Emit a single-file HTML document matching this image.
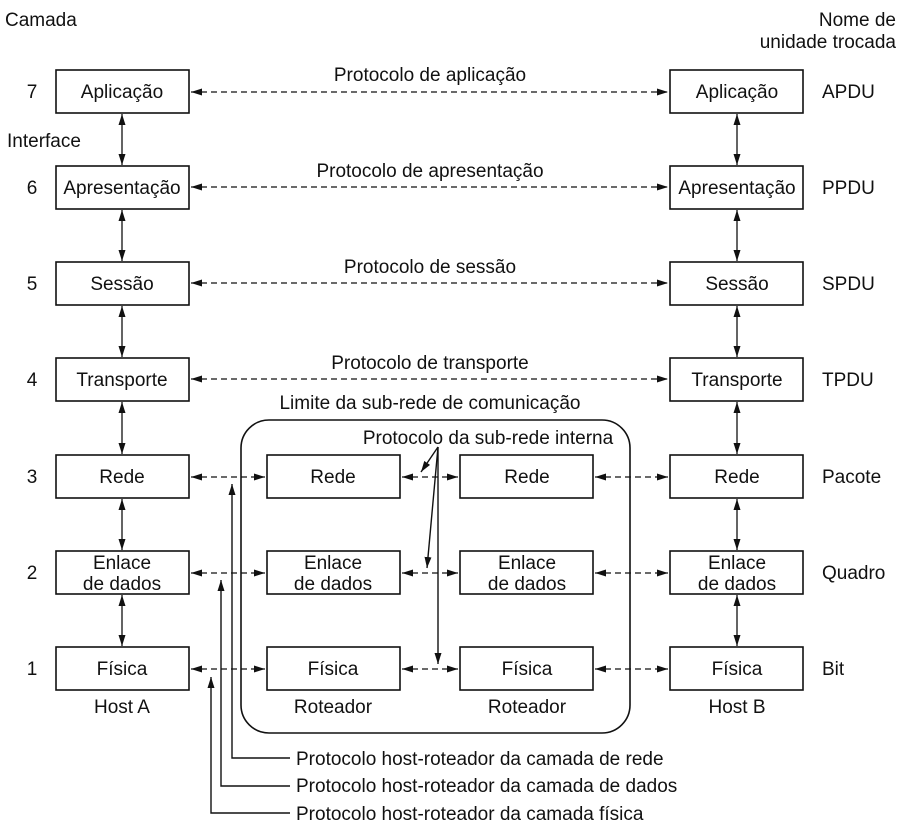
<!DOCTYPE html>
<html><head><meta charset="utf-8"><style>body{margin:0;background:#fff}svg{display:block}text{font-family:"Liberation Sans",sans-serif;font-size:19px;fill:#111}</style></head><body>
<svg width="900" height="828" viewBox="0 0 900 828" xmlns="http://www.w3.org/2000/svg">
<defs>
<marker id="a" markerWidth="11" markerHeight="8" refX="11" refY="4" orient="auto-start-reverse" markerUnits="userSpaceOnUse"><path d="M0,0.5 L11,4 L0,7.5 z" fill="#111"/></marker>
</defs>
<g stroke="#111" stroke-width="1.6" fill="none">
<rect x="56" y="70" width="133" height="43"/><rect x="670" y="70" width="133" height="43"/>
<rect x="56" y="166" width="133" height="43"/><rect x="670" y="166" width="133" height="43"/>
<rect x="56" y="262" width="133" height="43"/><rect x="670" y="262" width="133" height="43"/>
<rect x="56" y="358" width="133" height="43"/><rect x="670" y="358" width="133" height="43"/>
<rect x="56" y="455" width="133" height="43"/><rect x="670" y="455" width="133" height="43"/>
<rect x="56" y="551" width="133" height="43"/><rect x="670" y="551" width="133" height="43"/>
<rect x="56" y="647" width="133" height="43"/><rect x="670" y="647" width="133" height="43"/>
<rect x="267" y="455" width="133" height="43"/><rect x="460" y="455" width="133" height="43"/>
<rect x="267" y="551" width="133" height="43"/><rect x="460" y="551" width="133" height="43"/>
<rect x="267" y="647" width="133" height="43"/><rect x="460" y="647" width="133" height="43"/>
<rect x="241" y="420" width="389" height="313" rx="28"/>
</g>
<g stroke="#111" stroke-width="1.3" fill="none" marker-start="url(#a)" marker-end="url(#a)">
<line x1="122" y1="114" x2="122" y2="165"/><line x1="122" y1="210" x2="122" y2="261"/><line x1="122" y1="306" x2="122" y2="357"/><line x1="122" y1="402" x2="122" y2="454"/><line x1="122" y1="499" x2="122" y2="550"/><line x1="122" y1="595" x2="122" y2="646"/>
<line x1="737" y1="114" x2="737" y2="165"/><line x1="737" y1="210" x2="737" y2="261"/><line x1="737" y1="306" x2="737" y2="357"/><line x1="737" y1="402" x2="737" y2="454"/><line x1="737" y1="499" x2="737" y2="550"/><line x1="737" y1="595" x2="737" y2="646"/>
</g>
<g stroke="#111" stroke-width="1.3" fill="none" stroke-dasharray="6,4" marker-start="url(#a)" marker-end="url(#a)">
<line x1="191" y1="92" x2="668" y2="92"/><line x1="191" y1="187" x2="668" y2="187"/><line x1="191" y1="283" x2="668" y2="283"/><line x1="191" y1="379" x2="668" y2="379"/>
<line x1="191" y1="477" x2="265" y2="477"/><line x1="402" y1="477" x2="458" y2="477"/><line x1="595" y1="477" x2="668" y2="477"/>
<line x1="191" y1="573" x2="265" y2="573"/><line x1="402" y1="573" x2="458" y2="573"/><line x1="595" y1="573" x2="668" y2="573"/>
<line x1="191" y1="669" x2="265" y2="669"/><line x1="402" y1="669" x2="458" y2="669"/><line x1="595" y1="669" x2="668" y2="669"/>
</g>
<g stroke="#111" stroke-width="1.4" fill="none" marker-end="url(#a)">
<polyline points="290,758 232,758 232,484"/>
<polyline points="290,786 221,786 221,580"/>
<polyline points="290,813 211,813 211,677"/>
<line x1="438" y1="447" x2="421" y2="472"/>
<line x1="438" y1="447" x2="427" y2="568"/>
<line x1="438" y1="447" x2="438" y2="664"/>
</g>
<text x="5" y="26">Camada</text>
<text x="896" y="26" text-anchor="end">Nome de</text>
<text x="896" y="48" text-anchor="end">unidade trocada</text>
<text x="7" y="147">Interface</text>
<g text-anchor="middle">
<text x="122" y="98">Aplicação</text><text x="737" y="98">Aplicação</text>
<text x="122" y="194">Apresentação</text><text x="737" y="194">Apresentação</text>
<text x="122" y="290">Sessão</text><text x="737" y="290">Sessão</text>
<text x="122" y="386">Transporte</text><text x="737" y="386">Transporte</text>
<text x="122" y="483">Rede</text><text x="737" y="483">Rede</text><text x="333" y="483">Rede</text><text x="527" y="483">Rede</text>
<text x="122" y="569">Enlace</text><text x="122" y="590">de dados</text>
<text x="737" y="569">Enlace</text><text x="737" y="590">de dados</text>
<text x="333" y="569">Enlace</text><text x="333" y="590">de dados</text>
<text x="527" y="569">Enlace</text><text x="527" y="590">de dados</text>
<text x="122" y="675">Física</text><text x="737" y="675">Física</text><text x="333" y="675">Física</text><text x="527" y="675">Física</text>
<text x="122" y="713">Host A</text><text x="737" y="713">Host B</text>
<text x="333" y="713">Roteador</text><text x="527" y="713">Roteador</text>
<text x="430" y="81">Protocolo de aplicação</text>
<text x="430" y="177">Protocolo de apresentação</text>
<text x="430" y="273">Protocolo de sessão</text>
<text x="430" y="369">Protocolo de transporte</text>
<text x="430" y="409">Limite da sub-rede de comunicação</text>
<text x="488" y="444">Protocolo da sub-rede interna</text>
<text x="32" y="98">7</text><text x="32" y="194">6</text><text x="32" y="290">5</text><text x="32" y="386">4</text><text x="32" y="483">3</text><text x="32" y="579">2</text><text x="32" y="675">1</text>
</g>
<text x="822" y="98">APDU</text><text x="822" y="194">PPDU</text><text x="822" y="290">SPDU</text><text x="822" y="386">TPDU</text><text x="822" y="483">Pacote</text><text x="822" y="579">Quadro</text><text x="822" y="675">Bit</text>
<text x="296" y="765">Protocolo host-roteador da camada de rede</text>
<text x="296" y="792">Protocolo host-roteador da camada de dados</text>
<text x="296" y="820">Protocolo host-roteador da camada física</text>
</svg>
</body></html>
